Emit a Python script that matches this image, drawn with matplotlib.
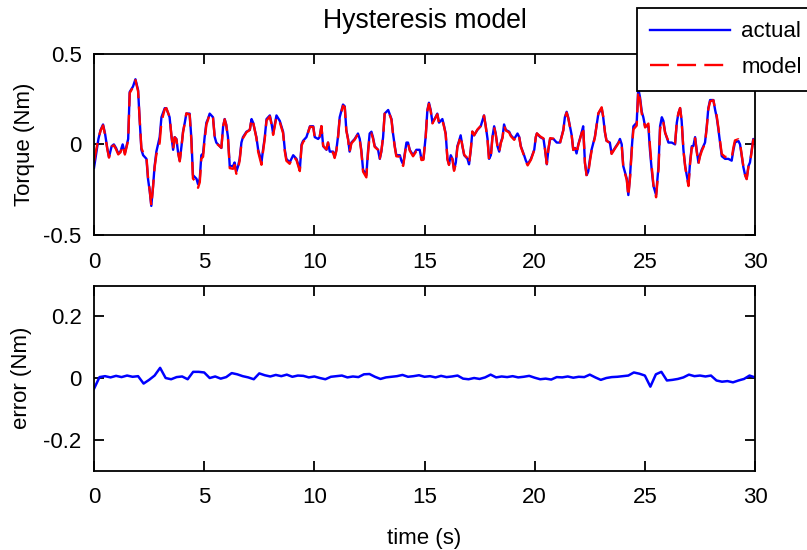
#!/usr/bin/env python

""" plot measured vs hysteresis-model torque and the model error """

import numpy as np
import matplotlib
matplotlib.use("Agg")
import matplotlib.pyplot as plt
from matplotlib.ticker import FuncFormatter

# measured torque (Nm) vs time (s)
time = [
    0.00, 0.10, 0.20, 0.30, 0.41, 0.50, 0.60, 0.68, 0.80, 0.90, 1.00, 1.10,
    1.20, 1.30, 1.40, 1.55, 1.62, 1.77, 1.88, 2.00, 2.07, 2.15, 2.23, 2.38,
    2.45, 2.53, 2.60, 2.68, 2.75, 2.83, 2.98, 3.06, 3.21, 3.28, 3.43, 3.51,
    3.59, 3.66, 3.74, 3.81, 3.89, 3.97, 4.04, 4.12, 4.19, 4.34, 4.42, 4.49,
    4.65, 4.72, 4.80, 4.87, 4.95, 5.02, 5.10, 5.17, 5.25, 5.40, 5.48, 5.55,
    5.70, 5.78, 5.86, 5.93, 6.00, 6.08, 6.16, 6.31, 6.38, 6.46, 6.54, 6.61,
    6.69, 6.76, 6.92, 7.07, 7.15, 7.22, 7.37, 7.45, 7.52, 7.60, 7.67, 7.75,
    7.83, 7.98, 8.05, 8.13, 8.28, 8.43, 8.58, 8.66, 8.73, 8.88, 9.04, 9.19,
    9.34, 9.42, 9.49, 9.64, 9.80, 9.95, 10.02, 10.17, 10.24, 10.32, 10.40,
    10.55, 10.62, 10.70, 10.85, 10.92, 11.00, 11.08, 11.15, 11.30, 11.38,
    11.45, 11.53, 11.60, 11.68, 11.83, 11.98, 12.06, 12.13, 12.21, 12.36,
    12.44, 12.51, 12.59, 12.66, 12.74, 12.89, 12.97, 13.04, 13.12, 13.19,
    13.35, 13.50, 13.57, 13.65, 13.72, 13.88, 13.95, 14.03, 14.18, 14.25,
    14.33, 14.48, 14.63, 14.78, 14.86, 14.95, 15.05, 15.13, 15.20, 15.28,
    15.36, 15.50, 15.58, 15.66, 15.81, 15.89, 15.96, 16.04, 16.11, 16.19,
    16.27, 16.34, 16.42, 16.49, 16.57, 16.64, 16.72, 16.80, 16.95, 17.02,
    17.10, 17.17, 17.25, 17.40, 17.55, 17.70, 17.78, 17.86, 17.93, 18.01,
    18.08, 18.16, 18.23, 18.31, 18.39, 18.46, 18.54, 18.61, 18.69, 18.84,
    18.92, 19.07, 19.22, 19.30, 19.37, 19.52, 19.60, 19.68, 19.83, 19.98,
    20.05, 20.10, 20.25, 20.40, 20.47, 20.55, 20.62, 20.70, 20.85, 21.00,
    21.15, 21.30, 21.37, 21.45, 21.52, 21.60, 21.68, 21.75, 21.83, 21.90,
    21.98, 22.13, 22.20, 22.28, 22.36, 22.43, 22.51, 22.58, 22.73, 22.89,
    23.04, 23.11, 23.19, 23.26, 23.41, 23.49, 23.64, 23.80, 23.87, 23.95,
    24.02, 24.18, 24.25, 24.33, 24.40, 24.48, 24.63, 24.70, 24.78, 24.86,
    24.93, 25.01, 25.16, 25.23, 25.31, 25.39, 25.51, 25.62, 25.69, 25.77,
    25.84, 25.92, 26.07, 26.22, 26.37, 26.45, 26.52, 26.60, 26.67, 26.75,
    26.83, 26.90, 26.98, 27.05, 27.13, 27.20, 27.28, 27.35, 27.43, 27.50,
    27.58, 27.73, 27.81, 27.88, 27.96, 28.11, 28.19, 28.26, 28.34, 28.41,
    28.49, 28.64, 28.79, 28.94, 29.02, 29.09, 29.24, 29.32, 29.39, 29.47,
    29.55, 29.62, 29.70, 29.77, 29.85, 29.92, 30.00]

torque_actual = [
    -0.13, -0.05, 0.03, 0.08, 0.11, 0.06, -0.02, -0.07, -0.01, 0.00, -0.02,
    -0.05, -0.04, 0.00, -0.05, 0.03, 0.29, 0.32, 0.36, 0.30, 0.14, -0.03,
    -0.06, -0.08, -0.19, -0.26, -0.34, -0.23, -0.12, -0.04, 0.04, 0.15, 0.20,
    0.20, 0.15, 0.05, -0.03, 0.04, 0.03, -0.04, -0.09, -0.01, 0.07, 0.12,
    0.17, 0.17, 0.03, -0.17, -0.19, -0.22, -0.19, -0.06, -0.05, 0.04, 0.12,
    0.14, 0.17, 0.15, 0.04, 0.01, -0.01, -0.02, 0.10, 0.14, 0.11, 0.04,
    -0.12, -0.12, -0.10, -0.15, -0.12, -0.08, 0.01, 0.04, 0.07, 0.08, 0.14,
    0.12, 0.04, -0.03, -0.06, -0.10, -0.03, 0.04, 0.14, 0.16, 0.12, 0.06,
    0.16, 0.13, 0.07, -0.03, -0.08, -0.10, -0.06, -0.08, -0.14, 0.00, 0.02,
    0.04, 0.10, 0.10, 0.04, 0.03, 0.04, 0.10, -0.01, -0.03, 0.01, -0.04,
    -0.04, -0.07, -0.03, 0.05, 0.15, 0.22, 0.21, 0.08, 0.03, -0.04, 0.01,
    0.03, 0.06, 0.03, -0.03, -0.14, -0.17, -0.03, 0.06, 0.07, 0.04, -0.01,
    -0.03, -0.08, -0.04, 0.04, 0.17, 0.19, 0.14, 0.06, -0.01, -0.06, -0.06,
    -0.09, -0.11, 0.01, 0.01, -0.03, -0.06, -0.03, -0.03, -0.08, -0.08,
    0.04, 0.19, 0.23, 0.19, 0.12, 0.15, 0.17, 0.12, 0.14, 0.10, 0.06, -0.08,
    -0.11, -0.06, -0.08, -0.14, -0.10, -0.01, 0.02, 0.05, -0.01, -0.06,
    -0.08, -0.11, -0.03, 0.07, 0.05, 0.08, 0.10, 0.16, 0.10, 0.03, -0.08,
    -0.06, 0.04, 0.10, 0.06, -0.01, -0.04, 0.01, 0.04, 0.11, 0.08, 0.07,
    0.05, 0.03, 0.06, 0.04, -0.01, -0.06, -0.09, -0.11, -0.08, -0.03, 0.04,
    0.06, 0.04, 0.03, -0.03, -0.11, -0.03, 0.03, 0.03, 0.01, 0.01, 0.08,
    0.15, 0.18, 0.15, 0.10, 0.05, -0.03, -0.02, -0.05, 0.00, 0.065, 0.10,
    -0.10, -0.17, -0.15, -0.08, -0.03, 0.04, 0.17, 0.20, 0.15, 0.065, 0.02,
    0.01, -0.05, -0.02, 0.01, 0.03, 0.00, -0.12, -0.19, -0.28, -0.17, -0.03,
    0.10, 0.12, 0.31, 0.26, 0.18, 0.15, 0.10, 0.10, -0.03, -0.14, -0.23,
    -0.28, -0.12, 0.10, 0.15, 0.13, 0.065, 0.01, 0.01, 0.00, 0.12, 0.17,
    0.20, 0.13, -0.03, -0.12, -0.17, -0.22, -0.10, -0.01, -0.01, 0.04,
    -0.03, -0.10, -0.06, -0.03, 0.01, 0.10, 0.20, 0.245, 0.245, 0.19, 0.15,
    0.08, 0.01, -0.065, -0.08, -0.08, -0.09, -0.03, 0.01, 0.02, 0.00, -0.06,
    -0.125, -0.17, -0.19, -0.12, -0.10, -0.03, 0.03, 0.01]

# model error (actual - model), sampled every 0.25 s
err_time = [i * 0.25 for i in range(121)]
err = [
    -0.035, 0.003, 0.006, 0.002, 0.007, 0.003, 0.008, 0.004, 0.006, -0.018,
    -0.006, 0.008, 0.033, 0.000, -0.004, 0.003, 0.005, -0.004, 0.020, 0.020,
    0.018, 0.000, 0.005, -0.002, 0.003, 0.016, 0.012, 0.006, 0.002, -0.004,
    0.015, 0.009, 0.005, 0.010, 0.006, 0.011, 0.004, 0.008, 0.007, 0.002,
    0.005, 0.000, -0.004, 0.004, 0.006, 0.008, 0.002, 0.005, 0.003, 0.012,
    0.013, 0.004, -0.003, 0.002, 0.004, 0.006, 0.010, 0.004, 0.006, 0.009,
    0.004, 0.006, 0.002, 0.007, 0.003, 0.005, 0.008, -0.002, -0.004, 0.000,
    -0.003, 0.002, 0.011, 0.002, 0.005, 0.003, 0.006, 0.002, 0.004, 0.007,
    0.001, -0.004, -0.002, -0.005, 0.003, 0.002, 0.005, 0.001, 0.004, 0.003,
    0.011, 0.002, -0.006, 0.000, 0.003, 0.004, 0.006, 0.008, 0.018, 0.014,
    0.008, -0.028, 0.012, 0.020, -0.008, -0.006, -0.003, 0.002, 0.011, 0.006,
    0.008, 0.005, 0.008, -0.008, -0.012, -0.010, -0.014, -0.008, -0.003,
    0.008, 0.002]


def fmt(v, pos):
    return "%g" % round(v, 3)


def style_axes(ax):
    ax.tick_params(direction="in", length=7, width=1.3, top=True, right=True)
    ax.tick_params(axis="x", pad=12)
    ax.tick_params(axis="y", pad=9)
    for sp in ax.spines.values():
        sp.set_linewidth(1.3)
    ax.yaxis.set_major_formatter(FuncFormatter(fmt))
    ax.xaxis.set_major_formatter(FuncFormatter(fmt))
    ax.set_xlim(0, 30)
    ax.set_xticks([0, 5, 10, 15, 20, 25, 30])


def main():
    plt.rcParams["font.family"] = ["Liberation Sans", "DejaVu Sans"]
    plt.rcParams["font.size"] = 16
    plt.rcParams["axes.unicode_minus"] = False

    t = np.array(time)
    actual = np.array(torque_actual)
    model = actual - np.interp(t, err_time, err)

    fig = plt.figure(figsize=(8.07, 5.5), dpi=100)

    # top: torque, actual vs model
    ax = fig.add_axes([0.1165, 0.573, 0.8191, 0.329])
    ax.plot(t, actual, "-", color="#0000ff", lw=1.7, label="actual")
    ax.plot(t, model, "--", color="#ff0000", lw=1.7, dashes=(8, 3.5),
            label="model")
    ax.set_ylim(-0.5, 0.5)
    ax.set_yticks([-0.5, 0, 0.5])
    ax.set_ylabel("Torque (Nm)", labelpad=6)
    ax.set_title("Hysteresis model", pad=19)
    style_axes(ax)

    leg = fig.legend(loc="upper left", bbox_to_anchor=(637 / 807, 1 - 8 / 550),
                     fancybox=False, framealpha=1, edgecolor="k",
                     handlelength=3.6, borderpad=0.6, handletextpad=0.5,
                     labelspacing=0.65, borderaxespad=0)
    leg.get_frame().set_linewidth(1.3)

    # bottom: model error
    ax = fig.add_axes([0.1165, 0.1445, 0.8191, 0.3364])
    ax.plot(err_time, err, "-", color="#0000ff", lw=1.8)
    ax.set_ylim(-0.3, 0.3)
    ax.set_yticks([-0.2, 0, 0.2])
    ax.set_ylabel("error (Nm)", labelpad=8)
    ax.set_xlabel("time (s)", labelpad=14)
    style_axes(ax)

    fig.savefig("out.png", dpi=100)


if __name__ == "__main__":
    main()
